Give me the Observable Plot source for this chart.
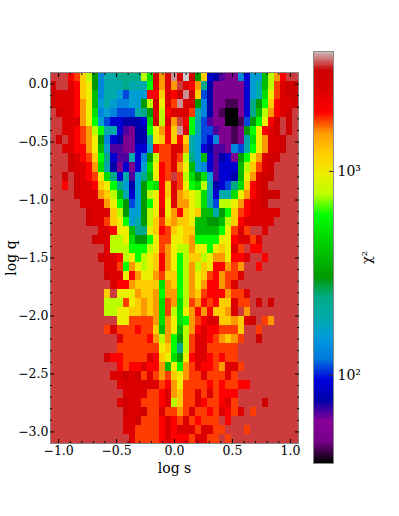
<!DOCTYPE html>
<html><head><meta charset="utf-8">
<script src="https://cdn.jsdelivr.net/npm/d3@7"></script>
<script src="https://cdn.jsdelivr.net/npm/@observablehq/plot@0.6"></script>
<style>html,body{margin:0;padding:0;background:#fff}#c{position:relative;width:399px;height:516px;overflow:hidden}#c svg{position:absolute;left:0;top:0;background:transparent}</style>
</head><body><div id="c"></div>
<script>
// chi^2, one letter per cell, row 0 = top (log q = 0.1)
const levelKeys = "abcdefghijklmnopqrstuvwxyz";
const chi2Levels = [37,42.6,51.3,64.7,74.4,89.7,108,130,157,189,238,300,379,478,603,760,959,1210,1528,1757,1928,2432,2930,3290,3613,3875];
const gridRows = [
"xxxutrplhjjkkkkpnwsvyvzwlrfedcchfiimpsuxx",
"wxxvurqlhjjjkjjjovsvsxvuskecccccfijmptvww",
"wvvvurqmhjjigiiiuurvuwywrgecccccfijnqtvww",
"wvvvusqmijihhiilpwqvtyvwlheccbbcfkloruvvw",
"xwvvusqnhihgggjklvpuvvvtjhecbaacfkmpsuvwx",
"xxvvvsqoigffeeefnwpvsxuojgdccaabgloquwxwx",
"xxvvutspojjfdceeoqsuryvojggdccbcloquvwxwx",
"xwxvutsqlhfecceejqrururjigfhccbcjnqsvvwxx",
"xxvvuusqmiddccffiuttvvsjifeddchgjoqsvvwxx",
"xxxwvutrokfddjfhlpttvtpkimfdefcloqsvwwxxx",
"xxxwvvusnjecfcfinqutvsqmihfdfffmprtvwxxxx",
"xxwxwvutqnkfjdikmqutxtpnlnidffemqsvwwxxxx",
"xxuxwvvurqokieilonurvtqonpjefgknruvwxxxxx",
"xxxxwvvvsrpmjfilpqurvsrqpnjfjjnqsuvwwwxxx",
"xxxxxvvvvsqolgiloquqvssqpnjgppqsuvvwxxxxx",
"xxxxxxwvvvrpliilpqvqsurqrmmjlortuvvvvvxxx",
"xxxxxxwvvtrqoijlprtrsrrqmmllmpruvvvvvxxxx",
"xxxxxxxxvvuqqmkkqrutrqrrmmmmoqtvtxxvxxxxx",
"xxxxxxxwvvppqnlloqttqqrsooooqquvvtvxxxxxx",
"xxxxxxxxxvpppooopqtsqppsqqoqrqvtxuuxxxxxx",
"xxxxxxxxwvvupqopqrusqoprrpqssquuvxxuxxxxx",
"xxxxxxxxxvvtosqpqrusqopsprquustsxxuxxxxxx",
"xxxxxxxxxwvvqusqqstrropsqrtusttvxxxxxxxxx",
"xxxxxxxxxxvuusrrrrnsropsqsuustvxxxxxxxxxx",
"xxxxxxxxxrxqqqsrrsossopsrtuuusttvxxxxxxxx",
"xxxxxxxxxppptqrsrsntsnptsuturrvttxwxwxxxx",
"xxxxxxxxxppqqrrsrsntpnqsusurrsvxsxxxxxxxx",
"xxxxxxxxxxxqqttttsnsqnostuvvrrsrvwxtsxxxx",
"xxxxxxxxxtvtttuttrmsqmpsuvuutttrxxtxxxxxx",
"xxxxxxxxxxxvttttuspsolptvvutsrstxxwxxxxxx",
"xxxxxxxxxxxtttttttqrokptvvtttttxxxxxxxxxx",
"xxxxxxxxxwuuttttvurqnlquvvututtxxxxxxxxxx",
"xxxxxxxxxxxutuuvuusmqostvuutsvvtxxxxxxxxx",
"xxxxxxxxxxvvwvwtvtstrqsttvtttvtxxxxxxxxxx",
"xxxxxxxxxxxvvvvvvvtusqttttututtuuxxxxxxxx",
"xxxxxxxxxxxxvvvvttuvsrttvtvtuuuxxxxxxxxxx",
"xxxxxxxxxxxvwvvtttuvprttvuttuvtxxxxwxxxxx",
"xxxxxxxxxxxxwvvwttvttstvttutvutvxtxxxxxxx",
"xxxxxxxxxxxxvvwtttuvutvtutttxuxxxxxxxxxxx",
"xxxxxxxxxxxxvvttttuvuvvvtvvttxxxtxxxxxxxx",
"xxxxxxxxxxxxxvttttuvuuutvvttxtxxxxxxxxxxx"
];
const spectralColors = ["#000000","#770088","#880099","#0000aa","#0000dd","#0077dd","#0099dd","#00aaaa","#00aa88","#009900","#00bb00","#00dd00","#00ff00","#bbff00","#eeee00","#ffcc00","#ff9900","#ff0000","#dd0000","#cc0000","#cccccc"];
const chi2Domain = [37, 3875];
const logSDomain = [-1.07, 1.07];
const logQDomain = [-3.1, 0.1];
const xMajor = [-1, -0.5, 0, 0.5, 1];
const yMajor = [0, -0.5, -1, -1.5, -2, -2.5, -3];
const colorBarTicks = [[100, "10²"], [1000, "10³"]];

const nRows = gridRows.length, nCols = 41;
const dx = (logSDomain[1] - logSDomain[0]) / nCols;
const dy = (logQDomain[1] - logQDomain[0]) / nRows;
const cells = [];
gridRows.forEach((row, r) => {
  for (let c = 0; c < nCols; ++c) {
    const key = row[c] || "x";
    cells.push({
      s1: logSDomain[0] + c * dx, s2: logSDomain[0] + (c + 1) * dx,
      q1: logQDomain[1] - (r + 1) * dy, q2: logQDomain[1] - r * dy,
      chi2: chi2Levels[levelKeys.indexOf(key)]
    });
  }
});
const spectral = d3.scaleLinear().domain(spectralColors.map((_, i) => i / 20)).range(spectralColors);
const colorScale = {type: "log", domain: chi2Domain, interpolate: spectral, clamp: true};
const fmt = d3.format(".1f");
const xMinor = d3.range(-10, 11).map(d => d / 10).filter(d => !xMajor.includes(d));
const yMinor = d3.range(-30, 1).map(d => d / 10).filter(d => !yMajor.includes(d));
const fontStyle = {fontFamily: "'DejaVu Serif'", fontSize: "12px", background: "transparent", color: "#000"};

const main = Plot.plot({
  width: 399, height: 516,
  marginLeft: 50, marginRight: 101, marginTop: 72, marginBottom: 73,
  style: fontStyle,
  x: {domain: logSDomain}, y: {domain: logQDomain},
  color: colorScale,
  marks: [
    Plot.rect(cells, {x1: "s1", x2: "s2", y1: "q1", y2: "q2", fill: "chi2", shapeRendering: "crispEdges"}),
    Plot.frame({stroke: "#888"}),
    Plot.axisX({anchor: "bottom", ticks: xMajor, tickSize: -4, tickPadding: 7, tickFormat: fmt, label: null, fontSize: 12.5}),
    Plot.axisX({anchor: "bottom", ticks: [], tickSize: 0, label: "log s", labelAnchor: "center", labelArrow: "none", labelOffset: 29, fontSize: 14}),
    Plot.axisX({anchor: "bottom", ticks: xMinor, tickSize: -2, tickFormat: () => "", label: null}),
    Plot.axisX({anchor: "top", ticks: xMajor, tickSize: -4, tickFormat: () => "", label: null}),
    Plot.axisX({anchor: "top", ticks: xMinor, tickSize: -2, tickFormat: () => "", label: null}),
    Plot.axisY({anchor: "left", ticks: yMajor, tickSize: -4, tickPadding: 6, tickFormat: fmt, label: null, fontSize: 12.5}),
    Plot.axisY({anchor: "left", ticks: [], tickSize: 0, label: "log q", labelAnchor: "center", labelArrow: "none", labelOffset: 44, fontSize: 14}),
    Plot.axisY({anchor: "left", ticks: yMinor, tickSize: -2, tickFormat: () => "", label: null}),
    Plot.axisY({anchor: "right", ticks: yMajor, tickSize: -4, tickFormat: () => "", label: null}),
    Plot.axisY({anchor: "right", ticks: yMinor, tickSize: -2, tickFormat: () => "", label: null})
  ]
});

const barLevels = d3.range(0, 240).map(i => chi2Domain[0] * Math.pow(chi2Domain[1] / chi2Domain[0], i / 240));
const barStep = Math.pow(chi2Domain[1] / chi2Domain[0], 1 / 240);
const bar = Plot.plot({
  width: 399, height: 516,
  marginLeft: 313, marginRight: 66, marginTop: 51, marginBottom: 53,
  style: fontStyle,
  x: {domain: [0, 1], axis: null},
  y: {type: "log", domain: chi2Domain, axis: null},
  color: colorScale,
  marks: [
    Plot.rect(barLevels, {x1: 0, x2: 1, y1: d => d, y2: d => d * barStep, fill: d => d, shapeRendering: "crispEdges"}),
    Plot.frame({stroke: "#888"}),
    Plot.tickY(colorBarTicks, {y: d => d[0], stroke: "#333", insetLeft: 16}),
    Plot.text(colorBarTicks, {x: 1, y: d => d[0], text: d => d[1], textAnchor: "start", dx: 4, fontSize: 14}),
    Plot.text(["χ²"], {x: 1, frameAnchor: "middle", text: d => d, rotate: -90, dx: 33, fontSize: 13})
  ]
});
const root = document.getElementById("c");
root.append(main, bar);
</script></body></html>
